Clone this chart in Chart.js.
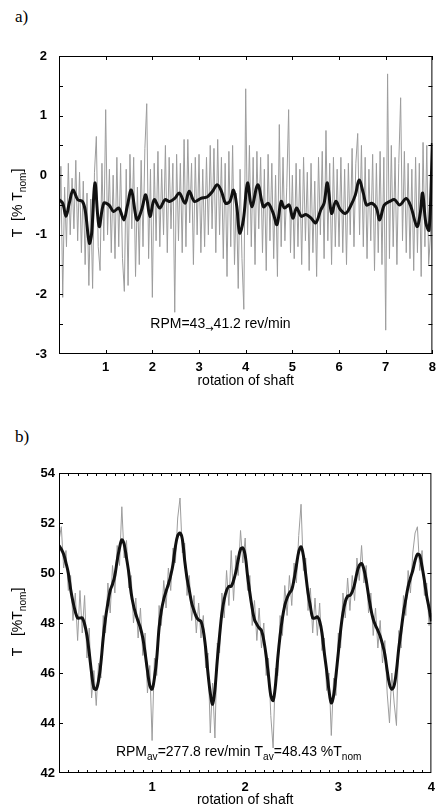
<!DOCTYPE html>
<html>
<head>
<meta charset="utf-8">
<script src="https://cdn.jsdelivr.net/npm/chart.js@4.4.1/dist/chart.umd.min.js"></script>
<style>
  body { margin: 0; background: #fff; width: 442px; height: 807px; overflow: hidden; position: relative; }
  .panel { position: absolute; left: 15px; font-family: "Liberation Serif", "Times New Roman", serif; font-size: 17px; color: #000; }
  canvas { position: absolute; left: 0; }
</style>
</head>
<body>
<div class="panel" style="top:7px">a)</div>
<div class="panel" style="top:427px">b)</div>
<canvas id="chartA" width="442" height="400" style="top:0"></canvas>
<canvas id="chartB" width="442" height="420" style="top:400px"></canvas>
<script>
/* DATA */
// a) raw torque, one value every 0.04 rotation
const stepA = 0.04;
const rawA = [
  -1.3, 0.15, -2.05, -0.2, -1.2, 0.2, -1.0, -0.05, -0.9, 0.25, -1.1, 0.05, -1.3, -0.1, -1.5, -0.3, -1.85, -0.4, -1.9, 0.05, 0.65, -1.2, -1.6, 0.2, -1.1,
  1.1, -1.0, 0.1, -1.3, 0.0, -1.4, 0.3, -1.2, 0.2, -1.4, -1.95, 0.1, -1.85, 0.35, -0.9, 0.3, -1.7, -0.2, -1.5, 0.25, -1.2, 0.45, 1.2, -1.4, 0.1,
  -2.05, 0.2, -1.1, 0.4, -1.2, 0.1, -1.0, 0.5, -1.3, 0.3, -0.9, 0.2, -2.3, 0.35, -1.1, 0.2, -1.3, 0.6, -1.2, 0.6, -0.8, 0.2, -1.5, 0.3, -1.0,
  0.35, -1.3, 0.1, -1.2, 0.3, -1.0, 0.5, -0.9, 0.45, -1.3, 0.6, -1.0, 0.3, -1.4, 0.2, -1.7, 0.4, -1.2, 0.5, -1.5, -0.3, -1.9, 0.1, -1.4, -2.25,
  1.45, -1.0, 0.5, -1.2, 0.3, -1.5, 0.4, -0.9, 0.3, -1.3, 0.1, -1.6, 0.35, -1.1, 0.2, -1.4, 0.0, -1.7, 0.85, -1.2, 0.3, -1.1, -0.2, 1.1, -1.3,
  0.0, -1.4, 0.2, -1.2, 0.1, -1.5, 0.3, -1.1, 0.05, -1.6, 0.2, -1.3, -0.1, -1.7, 0.3, -1.0, 0.4, -1.4, 0.75, -1.1, 0.2, -1.5, 0.3, -1.2, 0.1,
  -1.2, 0.3, -1.3, 0.1, -1.5, 0.2, -1.0, 0.45, -1.2, 0.2, 0.7, -1.0, 0.5, -1.2, 0.3, -1.4, 0.1, -1.1, 0.35, -1.6, 0.2, -1.3, 0.4, -1.5, 0.3,
  -2.6, 1.7, -1.4, 0.5, -1.2, 0.3, -1.5, 0.2, 1.3, -1.1, 0.4, -1.3, 0.2, -1.4, 0.1, -1.6, 0.3, -1.3, 0.2, -1.7, 0.55, -1.2, 0.5, -1.5, -1.0,
  0.5
];
// a) filtered torque
const smoothAX = [0, 0.08, 0.15, 0.22, 0.3, 0.4, 0.5, 0.56, 0.65, 0.7, 0.77, 0.86, 0.96, 1.07, 1.17, 1.28, 1.39, 1.46, 1.55, 1.67,
  1.77, 1.86, 1.95, 2.04, 2.16, 2.27, 2.37, 2.48, 2.58, 2.7, 2.79, 2.9, 3.04, 3.18, 3.29, 3.39, 3.48, 3.57, 3.66, 3.74,
  3.81, 3.87, 3.95, 4.04, 4.13, 4.26, 4.38, 4.48, 4.59, 4.67, 4.76, 4.83, 4.93, 5.01, 5.09, 5.19, 5.29, 5.4, 5.5, 5.61,
  5.68, 5.75, 5.84, 5.93, 6.03, 6.14, 6.24, 6.35, 6.43, 6.52, 6.59, 6.7, 6.8, 6.87, 6.97, 7.09, 7.19, 7.3, 7.44, 7.54,
  7.67, 7.74, 7.79, 7.86, 7.93, 8.0];
const smoothAY = [-0.41, -0.47, -0.69, -0.47, -0.25, -0.41, -0.44, -0.58, -1.14, -0.97, -0.13, -0.86, -0.47, -0.5, -0.61, -0.55, -0.75, -0.53, -0.25, -0.75,
  -0.58, -0.33, -0.69, -0.41, -0.55, -0.41, -0.44, -0.39, -0.3, -0.47, -0.27, -0.44, -0.39, -0.36, -0.27, -0.16, -0.27, -0.47, -0.44, -0.25,
  -0.53, -0.97, -0.75, -0.13, -0.53, -0.16, -0.53, -0.47, -0.64, -0.83, -0.44, -0.55, -0.5, -0.72, -0.55, -0.69, -0.66, -0.72, -0.8, -0.58,
  -0.47, -0.13, -0.64, -0.44, -0.58, -0.64, -0.53, -0.33, -0.08, -0.3, -0.5, -0.47, -0.55, -0.75, -0.5, -0.44, -0.41, -0.5, -0.39, -0.53,
  -0.86, -0.64, -0.3, -0.8, -0.92, 0.54];
const xLabelsA = [1, 2, 3, 4, 5, 6, 7, 8];

// b) raw and filtered torque, one value every 0.025 rotation
const stepB = 0.025;
const rawB = [
  51.3, 51.85, 50.2, 50.9, 49.3, 49.9, 48.1, 49.2, 47.3, 49.3, 47.6, 49.1, 46.6, 47.8, 45.0, 46.1, 44.7, 46.4, 45.8, 48.3,
  47.6, 49.6, 48.4, 50.3, 49.2, 51.1, 50.3, 52.65, 50.6, 51.3, 49.4, 49.9, 48.0, 49.0, 47.4, 48.6, 46.7, 47.6, 45.2, 46.3,
  43.3, 46.6, 45.9, 48.7, 47.9, 49.7, 48.6, 50.2, 49.3, 51.0, 50.4, 52.2, 53.0, 50.8, 51.2, 49.1, 49.9, 48.1, 49.1, 47.6,
  48.8, 47.4, 48.3, 46.2, 46.8, 43.6, 45.6, 43.4, 47.2, 46.8, 49.2, 48.2, 50.1, 48.7, 50.9, 48.9, 50.7, 49.9, 51.7, 50.4,
  51.4, 49.3, 49.9, 47.9, 48.9, 47.3, 48.6, 47.0, 48.0, 45.9, 46.6, 44.3, 43.0, 46.2, 45.9, 48.3, 47.5, 49.5, 48.3, 49.9,
  48.7, 50.4, 49.6, 51.5, 52.75, 50.1, 50.6, 48.5, 49.4, 47.6, 49.0, 47.5, 48.8, 46.9, 47.4, 45.3, 46.0, 43.5, 45.8, 45.1,
  47.6, 47.0, 49.2, 48.2, 49.8, 48.5, 49.9, 48.9, 50.6, 49.7, 51.1, 49.6, 50.3, 48.4, 49.2, 47.5, 48.6, 47.0, 48.1, 46.4,
  47.3, 45.2, 44.0, 46.0, 44.8, 43.9, 47.7, 47.0, 49.1, 48.3, 50.1, 49.2, 50.8, 51.6, 51.85, 50.1, 50.9, 49.1, 49.6, 47.9,
  48.4
];
const smoothB = [
  51.1, 50.95, 50.75, 50.4, 50.0, 49.35, 48.85, 48.45, 48.2, 48.2, 48.2, 47.95, 47.5, 46.8, 46.0, 45.4, 45.35, 45.7, 46.4, 47.4,
  48.2, 48.8, 49.3, 49.55, 49.9, 50.5, 51.0, 51.33, 51.15, 50.6, 50.0, 49.2, 48.7, 48.35, 48.07, 47.8, 47.4, 46.8, 46.1, 45.5,
  45.35, 45.8, 46.6, 47.8, 48.5, 48.95, 49.27, 49.55, 49.9, 50.35, 51.05, 51.5, 51.6, 51.35, 50.5, 49.8, 49.3, 48.8, 48.5, 48.25,
  48.12, 48.07, 47.7, 47.0, 46.0, 45.2, 44.75, 45.35, 46.5, 47.5, 48.4, 48.95, 49.3, 49.47, 49.47, 49.7, 50.05, 50.53, 50.95, 51.0,
  50.7, 49.9, 49.2, 48.6, 48.13, 47.95, 47.8, 47.7, 47.3, 46.7, 45.9, 45.1, 44.9, 45.5, 46.6, 47.5, 48.2, 48.7, 49.0, 49.2,
  49.33, 49.75, 50.3, 50.85, 51.05, 50.7, 49.95, 49.2, 48.67, 48.2, 48.2, 48.25, 48.07, 47.6, 46.8, 46.1, 45.3, 44.8, 45.1, 45.9,
  46.8, 47.7, 48.4, 48.85, 49.07, 49.1, 49.25, 49.55, 50.0, 50.3, 50.38, 50.15, 49.7, 49.1, 48.55, 48.15, 47.9, 47.7, 47.47, 47.15,
  46.75, 46.1, 45.55, 45.35, 45.5, 46.1, 47.0, 47.7, 48.4, 48.95, 49.45, 49.8, 50.1, 50.5, 50.75, 50.7, 50.25, 49.7, 49.07, 48.6,
  48.07
];
const xLabelsB = [1, 2, 3, 4];

/*****************************************************************/

const FONT = '"Liberation Sans", Arial, sans-serif';

// draw text made of pieces, some of them as subscripts
function partFont(p, size) {
  return (p.sub ? size * 0.72 : size) + 'px ' + (p.font || FONT);
}
function drawRich(ctx, parts, x, y, size) {
  const widths = parts.map(p => {
    ctx.font = partFont(p, size);
    return ctx.measureText(p.t).width;
  });
  let cx = x - widths.reduce((a, b) => a + b, 0) / 2;
  ctx.textBaseline = 'alphabetic';
  ctx.textAlign = 'left';
  parts.forEach((p, i) => {
    ctx.font = partFont(p, size);
    ctx.fillText(p.t, cx, y + (p.sub ? size * 0.3 : 0));
    cx += widths[i];
  });
}

// Frame, inward ticks on all sides, axis title and note
const framePlugin = {
  id: 'frame',
  afterDraw(chart, args, opts) {
    const { ctx, chartArea: a, scales: { x, y } } = chart;
    ctx.save();
    ctx.strokeStyle = '#000';
    ctx.lineWidth = 1;
    ctx.strokeRect(a.left + 0.5, a.top + 0.5, a.width - 1, a.height - 1);

    ctx.beginPath();
    opts.xTicks.forEach(v => {
      const px = Math.round(x.getPixelForValue(v)) + 0.5;
      ctx.moveTo(px, a.bottom); ctx.lineTo(px, a.bottom - opts.xLen);
      ctx.moveTo(px, a.top); ctx.lineTo(px, a.top + opts.xLen);
    });
    opts.yTicks.forEach(v => {
      const py = Math.round(y.getPixelForValue(v)) + 0.5;
      ctx.moveTo(a.left, py); ctx.lineTo(a.left + opts.yLen, py);
      ctx.moveTo(a.right, py); ctx.lineTo(a.right - opts.yLen, py);
    });
    ctx.stroke();

    ctx.fillStyle = '#000';
    // y title, rotated
    ctx.save();
    ctx.translate(opts.titleX, opts.titleY);
    ctx.rotate(-Math.PI / 2);
    drawRich(ctx, opts.title, 0, 5, 14);
    ctx.restore();

    // note inside the plot
    drawRich(ctx, opts.note, x.getPixelForValue(opts.noteAt[0]), y.getPixelForValue(opts.noteAt[1]), 14);
    ctx.restore();
  }
};

function makeChart(id, cfg) {
  return new Chart(document.getElementById(id), {
    type: 'line',
    data: {
      datasets: [
        { data: cfg.smooth, borderColor: '#111', borderWidth: 3, pointRadius: 0, tension: 0.35 },
        { data: cfg.raw, borderColor: '#9d9d9d', borderWidth: 1, pointRadius: 0, tension: 0 }
      ]
    },
    options: {
      responsive: false,
      animation: false,
      events: [],
      layout: { padding: { top: cfg.top, right: 4, left: 0, bottom: 0 } },
      plugins: { legend: { display: false }, tooltip: { enabled: false }, frame: cfg.frame },
      scales: {
        x: {
          type: 'linear', min: 0, max: cfg.xMax,
          afterBuildTicks: s => { s.ticks = cfg.xLabels.map(v => ({ value: v })); },
          afterFit: s => { s.height = cfg.xHeight; },
          grid: { display: false, drawTicks: false },
          border: { display: false },
          ticks: { color: '#000', font: { family: FONT, size: 13, weight: 'bold' }, padding: cfg.xPad, maxRotation: 0, autoSkip: false },
          title: { display: true, text: 'rotation of shaft', color: '#000', font: { family: FONT, size: 14 }, padding: { top: 0, bottom: cfg.titlePad } }
        },
        y: {
          min: cfg.yMin, max: cfg.yMax,
          afterFit: s => { s.width = 59; },
          grid: { display: false, drawTicks: false },
          border: { display: false },
          ticks: { stepSize: cfg.yStep, color: '#000', font: { family: FONT, size: 13, weight: 'bold' }, padding: cfg.yPad }
        }
      }
    },
    plugins: [framePlugin]
  });
}

const minorB = [];
for (let v = 0.1; v < 4; v += 0.1) minorB.push(Math.round(v * 10) / 10);

makeChart('chartA', {
  raw: rawA.map((v, i) => ({ x: i * stepA, y: v })),
  smooth: smoothAX.map((v, i) => ({ x: v, y: smoothAY[i] })),
  xMax: 8, yMin: -3, yMax: 2, yStep: 1, xLabels: xLabelsA,
  top: 56, xHeight: 46, xPad: 6, titlePad: 10, yPad: 12,
  frame: {
    xTicks: xLabelsA, xLen: 4,
    yTicks: [-2.5, -2, -1.5, -1, -0.5, 0, 0.5, 1, 1.5], yLen: 4,
    title: [{ t: 'T  [% T' }, { t: 'nom', sub: true }, { t: ']' }],
    titleX: 17, titleY: 203,
    note: [{ t: 'RPM=43' }, { t: '\u2192', sub: true, font: '"DejaVu Sans", sans-serif' }, { t: '41.2 rev/min' }],
    noteAt: [3.46, -2.56]
  }
});

makeChart('chartB', {
  raw: rawB.map((v, i) => ({ x: i * stepB, y: v })),
  smooth: smoothB.map((v, i) => ({ x: i * stepB, y: v })),
  xMax: 4, yMin: 42, yMax: 54, yStep: 2, xLabels: xLabelsB,
  top: 73, xHeight: 47, xPad: 7, titlePad: 11, yPad: 4,
  frame: {
    xTicks: minorB, xLen: 3,
    yTicks: [44, 46, 48, 50, 52], yLen: 4,
    title: [{ t: 'T   [%T' }, { t: 'nom', sub: true }, { t: ']' }],
    titleX: 17, titleY: 222,
    note: [{ t: 'RPM' }, { t: 'av', sub: true }, { t: '=277.8 rev/min T' }, { t: 'av', sub: true }, { t: '=48.43 %T' }, { t: 'nom', sub: true }],
    noteAt: [1.93, 42.7]
  }
});
</script>
</body>
</html>
